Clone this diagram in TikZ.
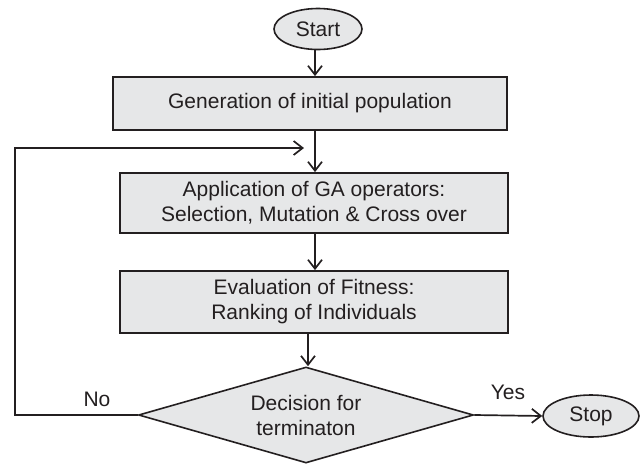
\documentclass[tikz,border=0pt]{standalone}
\usepackage{fontspec}
\setmainfont{Liberation Sans}
\usetikzlibrary{shapes.geometric,arrows.meta}
\definecolor{ink}{HTML}{231F20}
\definecolor{boxfill}{HTML}{E6E7E8}
\begin{document}
\begin{tikzpicture}[x=1pt,y=1pt,
  every node/.style={text=ink,font=\fontsize{21}{25}\selectfont},
  procbox/.style={draw=ink,fill=boxfill,line width=1.8pt,rectangle,inner sep=0pt,align=center},
  term/.style={draw=ink,fill=boxfill,line width=1.6pt,ellipse,inner sep=0pt},
  decide/.style={draw=ink,fill=boxfill,line width=1.6pt,diamond,aspect=3.49,inner sep=0pt,align=center,minimum width=335pt,minimum height=96pt},
  conn/.style={draw=ink,line width=1.7pt,-{Straight Barb[length=9pt,width=14pt,line width=1.7pt]}},
  lbl/.style={inner sep=0pt}]
\useasboundingbox (0,0) rectangle (643,-464);
\node[term,minimum width=88pt,minimum height=41pt] (start) at (318,-29) {Start};
\node[procbox,minimum width=394pt,minimum height=53pt] (gen) at (310,-103.5) {Generation of initial population};
\node[procbox,minimum width=388pt,minimum height=60pt] (app) at (314,-203) {Application of GA operators:\\Selection, Mutation \& Cross over};
\node[procbox,minimum width=388pt,minimum height=62pt] (eval) at (314,-302) {Evaluation of Fitness:\\Ranking of Individuals};
\node[decide] (dec) at (306,-415) {Decision for\\terminaton};
\node[term,minimum width=96pt,minimum height=42pt] (stop) at (591,-416) {Stop};
\coordinate (loopL) at (15,-415);
\coordinate (loopT) at (15,-148);
\coordinate (loopE) at (304,-148);
\node[lbl] (no) at (97,-399) {No};
\node[lbl] (yes) at (508,-392) {Yes};
\draw[conn] (315,0 |- start.south) -- (315,0 |- gen.north);
\draw[conn] (315,0 |- gen.south) -- (315,0 |- app.north);
\draw[conn] (315,0 |- app.south) -- (315,0 |- eval.north);
\draw[conn] (308,0 |- eval.south) -- (308,0 |- dec.north);
\draw[conn] (dec.east) -- (stop.west);
\draw[conn] (dec.west) -- (loopL) -- (loopT) -- (loopE);
\end{tikzpicture}
\end{document}
